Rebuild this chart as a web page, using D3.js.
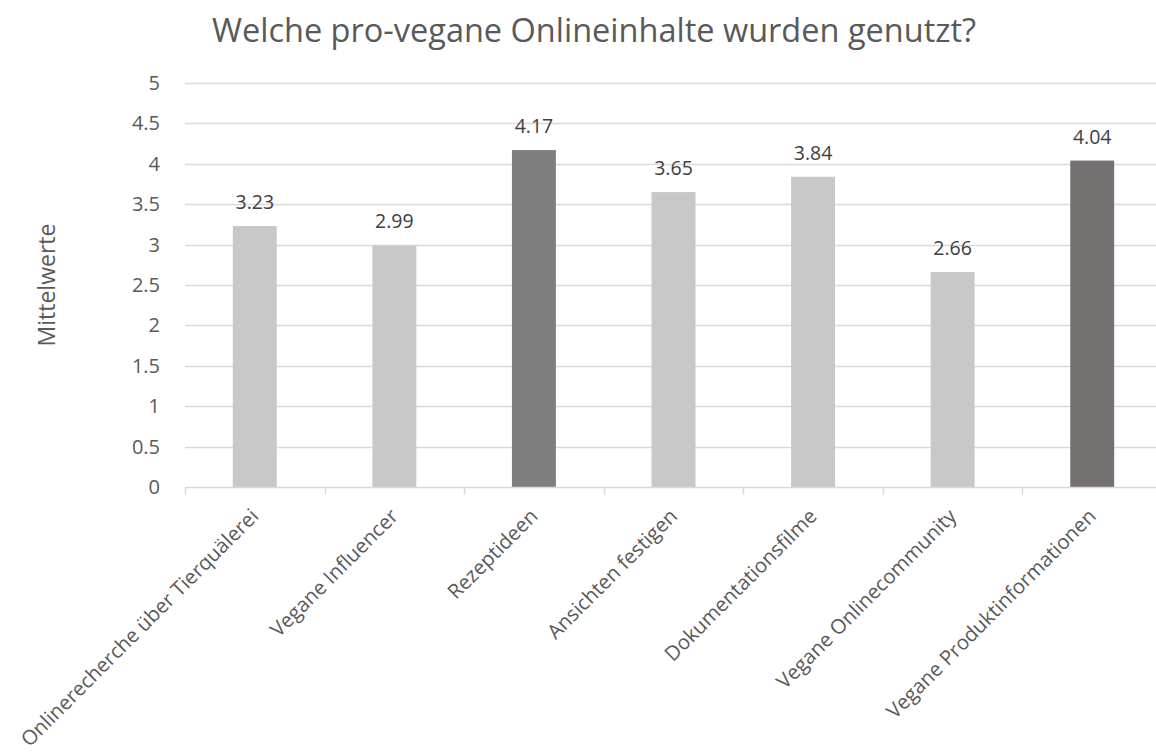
<!DOCTYPE html>
<html><head><meta charset="utf-8">
<script src="https://cdn.jsdelivr.net/npm/d3@7"></script>
<style>body{margin:0;background:#fff;} text{font-family:"Open Sans",sans-serif;}</style>
</head><body>
<svg id="c" width="1156" height="756"></svg>
<script>
const categories = ["Onlinerecherche über Tierquälerei","Vegane Influencer","Rezeptideen","Ansichten festigen","Dokumentationsfilme","Vegane Onlinecommunity","Vegane Produktinformationen"];
const values = [3.23, 2.99, 4.17, 3.65, 3.84, 2.66, 4.04];
const barColors = ["#c8c8c8","#c8c8c8","#7f7f7f","#c8c8c8","#c8c8c8","#c8c8c8","#767171"];
const yTicks = [0,0.5,1,1.5,2,2.5,3,3.5,4,4.5,5];
const title = "Welche pro-vegane Onlineinhalte wurden genutzt?";
const yTitle = "Mittelwerte";

const svg = d3.select("#c");
const x = d3.scaleBand().domain(categories).range([185, 1162]).paddingInner(0.685).paddingOuter(0.3425);
const y = d3.scaleLinear().domain([0,5]).range([487, 83]);

svg.append("text").attr("x", 594).attr("y", 42).attr("text-anchor","middle")
  .attr("font-size", 32.5).attr("fill","#595959").text(title);

// gridlines
svg.append("g").selectAll("line").data(yTicks.filter(d=>d>0)).join("line")
  .attr("x1",185).attr("x2",1156).attr("y1",d=>Math.round(y(d))+0.5).attr("y2",d=>Math.round(y(d))+0.5)
  .attr("stroke","#d9d9d9").attr("stroke-width",1.5);

// y axis labels
const ya = svg.append("g").attr("transform","translate(163,0)")
  .call(d3.axisLeft(y).tickValues(yTicks).tickSize(0).tickFormat(d=>String(d)));
ya.select(".domain").remove();
ya.selectAll("text").attr("font-size",20).attr("fill","#595959").attr("font-family","'Open Sans',sans-serif").attr("dx",0);

svg.append("text").attr("transform","translate(55,285) rotate(-90)").attr("text-anchor","middle")
  .attr("font-size",23).attr("fill","#595959").text(yTitle);

// bars
svg.append("g").selectAll("rect").data(values).join("rect")
  .attr("x",(d,i)=>x(categories[i])).attr("width",x.bandwidth())
  .attr("y",d=>y(d)).attr("height",d=>y(0)-y(d)).attr("fill",(d,i)=>barColors[i]);

// data labels
svg.append("g").selectAll("text").data(values).join("text")
  .attr("x",(d,i)=>x(categories[i])+x.bandwidth()/2).attr("y",d=>y(d)-17)
  .attr("text-anchor","middle").attr("font-size",19.5).attr("fill","#404040").text(d=>d.toFixed(2));

// x axis
const step = x.step();
const xa = svg.append("g").attr("transform","translate(0,"+(Math.round(y(0))+0.5)+")");
xa.append("line").attr("x1",185).attr("x2",1156).attr("stroke","#d9d9d9").attr("stroke-width",1.5);
xa.selectAll("line.t").data(d3.range(categories.length+1)).join("line").attr("class","t")
  .attr("x1",i=>Math.round(185+i*step)+0.5).attr("x2",i=>Math.round(185+i*step)+0.5)
  .attr("y1",0).attr("y2",7).attr("stroke","#d9d9d9").attr("stroke-width",1.5);
xa.selectAll("text").data(categories).join("text")
  .attr("transform",d=>"translate("+(x(d)+x.bandwidth()/2+5)+",30) rotate(-45)")
  .attr("text-anchor","end").attr("font-size",20.3).attr("fill","#595959").text(d=>d);
</script>
</body></html>
